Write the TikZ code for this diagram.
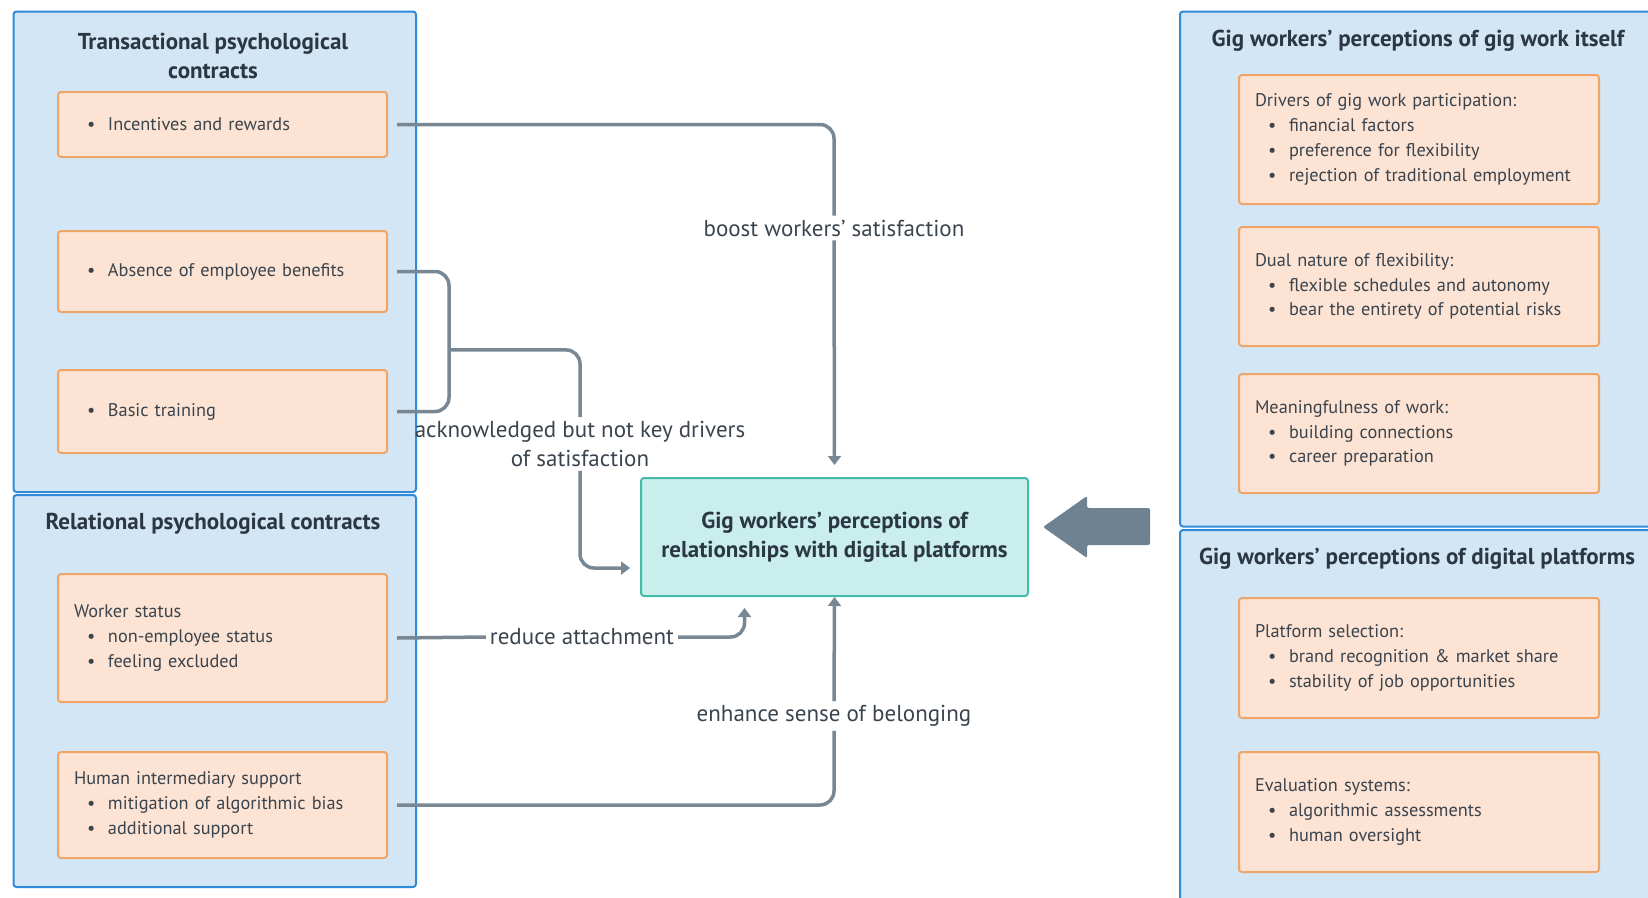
\documentclass[tikz,border=0pt]{standalone}
\usepackage{fontspec}
\setmainfont{PT Sans}
\usetikzlibrary{arrows.meta,calc}

\definecolor{panelfill}{HTML}{D3E6F6}
\definecolor{paneledge}{HTML}{2F8ADA}
\definecolor{cardfill}{HTML}{FCE3D3}
\definecolor{cardedge}{HTML}{EFA468}
\definecolor{corefill}{HTML}{C9EEEC}
\definecolor{coreedge}{HTML}{45BBAA}
\definecolor{linkgray}{HTML}{778794}
\definecolor{bodytext}{HTML}{3A444E}
\definecolor{headtext}{HTML}{2B3742}
\definecolor{blockarrow}{HTML}{6E8291}

% bullet line: dot indented, text hanging after it
\newcommand\gbul[1]{\makebox[34pt][l]{\hspace{13pt}\textbullet}#1}

\begin{document}
\begin{tikzpicture}[x=1pt,y=-1pt,
  panel/.style={draw=paneledge,fill=panelfill,line width=2pt,rounded corners=3pt,
    anchor=north west,inner sep=0pt},
  ptitle/.style={font=\fontsize{23}{29}\selectfont\bfseries,text=headtext,align=center},
  card/.style={draw=cardedge,fill=cardfill,line width=2pt,rounded corners=3pt,
    anchor=north west,inner xsep=16pt,inner ysep=0pt,align=left,
    font=\fontsize{18.3}{24.8}\selectfont,text=bodytext},
  lcard/.style={card,minimum width=329pt,text width=297pt},
  rcard/.style={card,minimum width=360pt,text width=328pt},
  core/.style={draw=coreedge,fill=corefill,line width=2pt,rounded corners=3pt,
    minimum width=387pt,minimum height=118pt,align=center,
    font=\fontsize{23}{29.5}\selectfont\bfseries,text=headtext},
  link/.style={draw=linkgray,line width=3.5pt,rounded corners=14pt},
  linkarrow/.style={link,-{Triangle[length=9pt,width=13pt]}},
  lbl/.style={font=\fontsize{23}{29}\selectfont,text=bodytext,align=center,inner sep=4pt}
]
\path[use as bounding box] (0,0) rectangle (1648,897);
\clip (0,0) rectangle (1648,897);

% ---------- panels ----------
\node[panel,minimum width=402.5pt,minimum height=480.5pt] (P1) at (12.5,10.5) {};
\node[panel,minimum width=402.5pt,minimum height=392pt] (P2) at (12.5,494) {};
\node[panel,minimum width=500pt,minimum height=515pt] (P3) at (1179,10.5) {};
\node[panel,minimum width=500pt,minimum height=400pt] (P4) at (1179,529) {};

\node[ptitle] (T1) at (213,55.5) {Transactional psychological\\contracts};
\node[ptitle] (T2) at (213,524) {Relational psychological contracts};
\node[ptitle] (T3) at (1418,41) {Gig workers’ perceptions of gig work itself};
\node[ptitle] (T4) at (1417,559) {Gig workers’ perceptions of digital platforms};

% ---------- left cards ----------
\node[lcard,minimum height=65pt] (I) at (57,91) {\gbul{Incentives and rewards}};
\node[lcard,minimum height=81pt] (A) at (57,230) {\gbul{Absence of employee benefits}};
\node[lcard,minimum height=83pt] (B) at (57,369) {\gbul{Basic training}};
\node[lcard,minimum height=128pt] (W) at (57,573)
  {Worker status\\\gbul{non-employee status}\\\gbul{feeling excluded}};
\node[lcard,minimum height=106pt] (H) at (57,751)
  {Human intermediary support\\\gbul{mitigation of algorithmic bias}\\\gbul{additional support}};

% ---------- right cards ----------
\node[rcard,minimum height=129pt] (R1) at (1238,74)
  {Drivers of gig work participation:\\\gbul{financial factors}\\\gbul{preference for flexibility}\\\gbul{rejection of traditional employment}};
\node[rcard,minimum height=119pt] (R2) at (1238,226)
  {Dual nature of flexibility:\\\gbul{flexible schedules and autonomy}\\\gbul{bear the entirety of potential risks}};
\node[rcard,minimum height=119pt] (R3) at (1238,373)
  {Meaningfulness of work:\\\gbul{building connections}\\\gbul{career preparation}};
\node[rcard,minimum height=120pt] (R4) at (1238,597)
  {Platform selection:\\\gbul{brand recognition \& market share}\\\gbul{stability of job opportunities}};
\node[rcard,minimum height=120pt] (R5) at (1238,751)
  {Evaluation systems:\\\gbul{algorithmic assessments}\\\gbul{human oversight}};

% ---------- central outcome ----------
\node[core] (C) at (834.5,537) {Gig workers’ perceptions of\\relationships with digital platforms};

% ---------- block arrow from the right-hand panels ----------
\fill[blockarrow,rounded corners=2pt] (1043,527) -- (1087,496) -- (1087,508) -- (1150,508)
  -- (1150,545) -- (1087,545) -- (1087,558) -- cycle;

% ---------- labels on the links ----------
\node[lbl] (L1) at (834,228) {boost workers’ satisfaction};
\node[lbl] (L2) at (580,444) {acknowledged but not key drivers\\of satisfaction};
\node[lbl] (L3) at (582,637) {reduce attachment};
\node[lbl] (L4) at (834,716) {enhance sense of belonging};

% ---------- links ----------
% incentives -> outcome
\draw[link] ([xshift=9pt]I.east) -| (L1.north);
\draw[linkarrow] (L1.south) -- ([yshift=12pt]C.north);

% benefits + training bracket -> outcome
\draw[link] ([xshift=9pt]A.east) -| ([xshift=61pt]B.east) -- ([xshift=9pt]B.east);
\coordinate (jn) at ($([xshift=61pt]A.east)!0.56!([xshift=61pt]B.east)$);
\draw[link] (jn) -| (L2.north);
\draw[linkarrow] (L2.south) |- ([xshift=-10pt,yshift=-31pt]C.west);

% worker status -> outcome
\draw[link] ([xshift=9pt]W.east) -- (L3.west);
\draw[linkarrow] (L3.east) -| ([xshift=-90pt,yshift=-11pt]C.south);

% human intermediary support -> outcome
\draw[link] ([xshift=9pt]H.east) -| (L4.south);
\draw[linkarrow] (L4.north) -- (C.south);
\end{tikzpicture}
\end{document}
